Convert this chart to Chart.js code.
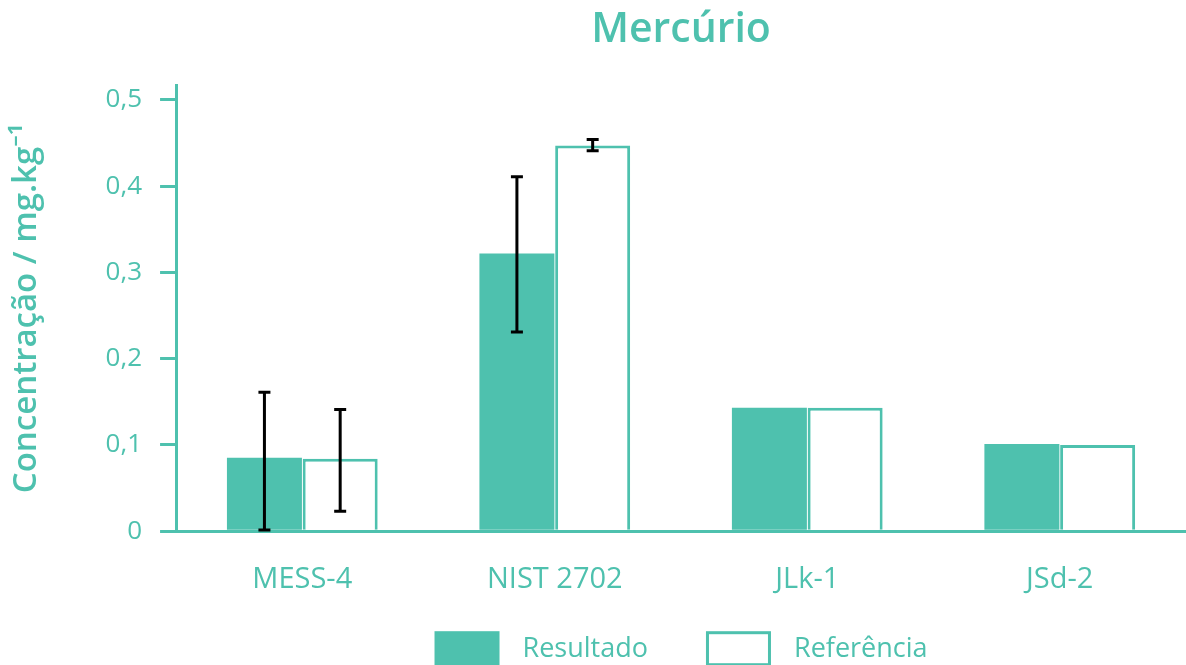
<!DOCTYPE html>
<html><head><meta charset="utf-8">
<script src="https://cdn.jsdelivr.net/npm/chart.js@4.4.1/dist/chart.umd.min.js"></script>
<style>html,body{margin:0;padding:0;background:#fff;overflow:hidden}#wrap{width:1186px;height:665px}</style>
</head><body><div id="wrap"><canvas id="c"></canvas></div>
<script>
const categories = ['MESS-4', 'NIST 2702', 'JLk-1', 'JSd-2'];
const resultado = [0.085, 0.322, 0.143, 0.101];
const referencia = [0.084, 0.447, 0.143, 0.100];
const resultadoErrLow = [0.0015, 0.231, null, null];
const resultadoErrHigh = [0.161, 0.411, null, null];
const referenciaErrLow = [0.023, 0.441, null, null];
const referenciaErrHigh = [0.141, 0.454, null, null];
const yTicks = [0, 0.1, 0.2, 0.3, 0.4, 0.5];

const TEAL = '#4ec1ae';
const FONT = "'Open Sans', 'Noto Sans', sans-serif";

const errorBars = {
  id: 'errorBars',
  afterDatasetsDraw(chart) {
    const ctx = chart.ctx, y = chart.scales.y;
    const sets = [[resultadoErrLow, resultadoErrHigh], [referenciaErrLow, referenciaErrHigh]];
    ctx.save();
    ctx.strokeStyle = '#000';
    ctx.lineWidth = 3;
    sets.forEach((s, di) => {
      chart.getDatasetMeta(di).data.forEach((bar, i) => {
        if (s[0][i] == null) return;
        const x = bar.x, y0 = y.getPixelForValue(s[0][i]), y1 = y.getPixelForValue(s[1][i]);
        ctx.beginPath();
        ctx.moveTo(x, y0); ctx.lineTo(x, y1);
        ctx.moveTo(x - 6, y0); ctx.lineTo(x + 6, y0);
        ctx.moveTo(x - 6, y1); ctx.lineTo(x + 6, y1);
        ctx.stroke();
      });
    });
    ctx.restore();
  }
};

// Legend drawn below the plot, centred on the plot area
const bottomLegend = {
  id: 'bottomLegend',
  afterDraw(chart) {
    const ctx = chart.ctx, area = chart.chartArea;
    const boxW = 65, boxH = 35, textGap = 23, itemGap = 58;
    ctx.save();
    ctx.font = "27px " + FONT;
    const items = chart.data.datasets.map(d => ({ d, w: ctx.measureText(d.label).width }));
    const total = items.reduce((s, it) => s + boxW + textGap + it.w, 0) + itemGap * (items.length - 1);
    let x = (area.left + area.right) / 2 - total / 2;
    const top = area.bottom + 100;
    items.forEach(it => {
      const d = it.d;
      ctx.fillStyle = d.backgroundColor;
      ctx.fillRect(x, top, boxW, boxH);
      if (d.borderWidth) {
        ctx.strokeStyle = d.borderColor; ctx.lineWidth = d.borderWidth;
        ctx.strokeRect(x + d.borderWidth / 2, top + d.borderWidth / 2, boxW - d.borderWidth, boxH - d.borderWidth);
      }
      ctx.fillStyle = TEAL;
      ctx.textBaseline = 'middle';
      ctx.textAlign = 'left';
      ctx.fillText(d.label, x + boxW + textGap, top + 18);
      x += boxW + textGap + it.w + itemGap;
    });
    ctx.restore();
  }
};

new Chart(document.getElementById('c'), {
  type: 'bar',
  data: {
    labels: categories,
    datasets: [
      { label: 'Resultado', data: resultado, backgroundColor: TEAL, borderColor: TEAL, borderWidth: 0 },
      { label: 'Referência', data: referencia, backgroundColor: '#fff', borderColor: TEAL, borderWidth: 3 }
    ]
  },
  options: {
    responsive: true,
    maintainAspectRatio: false,
    animation: false,
    layout: { padding: { left: 7, right: 0, top: 0, bottom: 45 } },
    datasets: { bar: { categoryPercentage: 0.6, barPercentage: 0.99 } },
    plugins: {
      title: {
        display: true, text: 'Mercúrio', color: TEAL, fullSize: false,
        font: { family: FONT, size: 41, weight: '600' },
        padding: { top: 6, bottom: 30 }
      },
      legend: { display: false },
      tooltip: { enabled: false }
    },
    scales: {
      x: {
        grid: { display: false },
        border: { display: true, color: TEAL, width: 3 },
        ticks: { color: TEAL, padding: 23, font: { family: FONT, size: 29 } }
      },
      y: {
        min: 0, max: 0.517,
        afterBuildTicks(axis) { axis.ticks = yTicks.map(v => ({ value: v })); },
        grid: { drawOnChartArea: false, drawTicks: true, tickLength: 16, color: TEAL, lineWidth: 3 },
        border: { display: true, color: TEAL, width: 3 },
        ticks: {
          color: TEAL, padding: 18, font: { family: FONT, size: 26 },
          callback: v => String(v).replace('.', ',')
        },
        title: {
          display: true, text: 'Concentração / mg.kg⁻¹', color: TEAL,
          font: { family: FONT, size: 33, weight: '600' }, padding: { top: 0, bottom: 41 }
        }
      }
    }
  },
  plugins: [errorBars, bottomLegend]
});
</script></body></html>
